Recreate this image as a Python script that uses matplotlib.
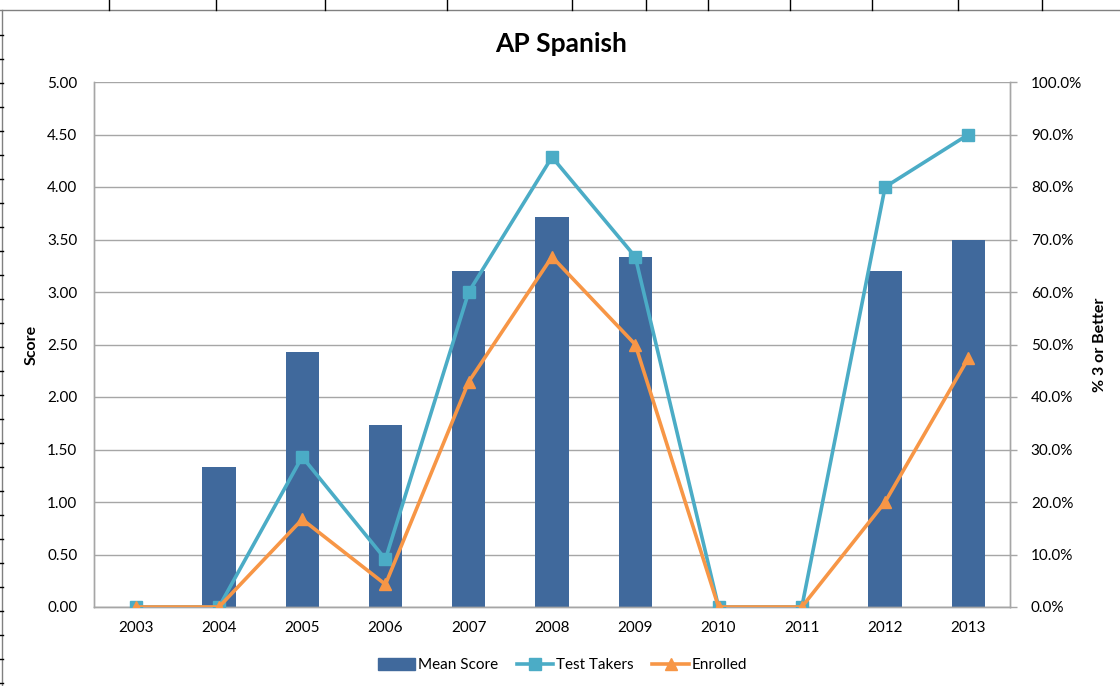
import matplotlib
matplotlib.use("Agg")
import matplotlib.pyplot as plt
from matplotlib.lines import Line2D
from matplotlib.ticker import FuncFormatter, MultipleLocator

plt.rcParams['font.family'] = ['Lato', 'DejaVu Sans']

# data
years = ['2003', '2004', '2005', '2006', '2007', '2008', '2009', '2010', '2011', '2012', '2013']
mean_score = [0, 1.33, 2.43, 1.73, 3.20, 3.71, 3.33, 0, 0, 3.20, 3.50]
test_takers = [0, 0, 28.6, 9.1, 60.0, 85.7, 66.7, 0, 0, 80.0, 90.0]
enrolled = [0, 0, 16.7, 4.3, 42.9, 66.7, 50.0, 0, 0, 20.0, 47.4]

BAR_COLOR = '#40699c'
TT_COLOR = '#4bacc6'
EN_COLOR = '#f79646'
GRID = '#a6a6a6'
FS = 11

fig = plt.figure(figsize=(11.2, 6.86), dpi=100)
ax = fig.add_axes([94 / 1120, 1 - 607 / 686, (1010 - 94) / 1120, (607 - 82) / 686])
ax2 = ax.twinx()

x = list(range(len(years)))
ax.bar(x, mean_score, width=0.40, color=BAR_COLOR, zorder=2)
ax.set_xlim(-0.5, len(years) - 0.5)
ax.set_ylim(0, 5)
ax.yaxis.set_major_locator(MultipleLocator(0.5))
ax.yaxis.set_major_formatter(FuncFormatter(lambda v, p: f"{v:.2f}"))
ax.grid(axis='y', color=GRID, lw=1, zorder=0)
ax.set_axisbelow(True)
ax.set_xticks(x)
ax.set_xticklabels(years)
ax.tick_params(axis='x', length=0, pad=10, labelsize=FS)
ax.tick_params(axis='y', length=0, pad=12, labelsize=FS)
ax.set_ylabel('Score', fontweight='bold', fontsize=11.5, labelpad=6)

ax2.plot(x, test_takers, color=TT_COLOR, lw=2.6, marker='s', ms=8, zorder=3)
ax2.plot(x, enrolled, color=EN_COLOR, lw=2.6, marker='^', ms=8, zorder=4)
ax2.set_ylim(0, 100)
ax2.yaxis.set_major_locator(MultipleLocator(10))
ax2.yaxis.set_major_formatter(FuncFormatter(lambda v, p: f"{v:.1f}%"))
ax2.tick_params(axis='y', length=5, width=1, color=GRID, pad=10, labelsize=FS)
ax2.set_ylabel('% 3 or Better', fontweight='bold', fontsize=11.5, labelpad=8)

for a in (ax, ax2):
    a.spines['top'].set_visible(False)
    for s in ('left', 'right', 'bottom'):
        a.spines[s].set_color(GRID)
        a.spines[s].set_linewidth(1)

fig.text(561 / 1120, 1 - 44 / 686, 'AP Spanish', ha='center', va='center',
         fontsize=19, fontweight='bold')

handles = [
    plt.Rectangle((0, 0), 1, 1, color=BAR_COLOR),
    Line2D([], [], color=TT_COLOR, lw=2.6, marker='s', ms=8),
    Line2D([], [], color=EN_COLOR, lw=2.6, marker='^', ms=8),
]
fig.legend(handles, ['Mean Score', 'Test Takers', 'Enrolled'], ncol=3,
           loc='center', bbox_to_anchor=(563 / 1120, 1 - 665 / 686),
           frameon=False, fontsize=FS, handlelength=2.4, handleheight=0.9,
           handletextpad=0.2, columnspacing=1.2)

# spreadsheet cell borders around the chart object
fig.add_artist(Line2D([0, 1], [1 - 10 / 686] * 2, color='#808080', lw=1))
fig.add_artist(Line2D([1.5 / 1120] * 2, [0, 1 - 10 / 686], color='#808080', lw=1))
for cx in [109, 216, 325, 447, 572, 646, 708, 790, 872, 958, 1042]:
    fig.add_artist(Line2D([cx / 1120] * 2, [1 - 10 / 686, 1], color='#000000', lw=1))
for ry in range(35, 686, 24):
    fig.add_artist(Line2D([0, 3 / 1120], [1 - ry / 686] * 2, color='#000000', lw=1))

fig.savefig('out.png', dpi=100)
